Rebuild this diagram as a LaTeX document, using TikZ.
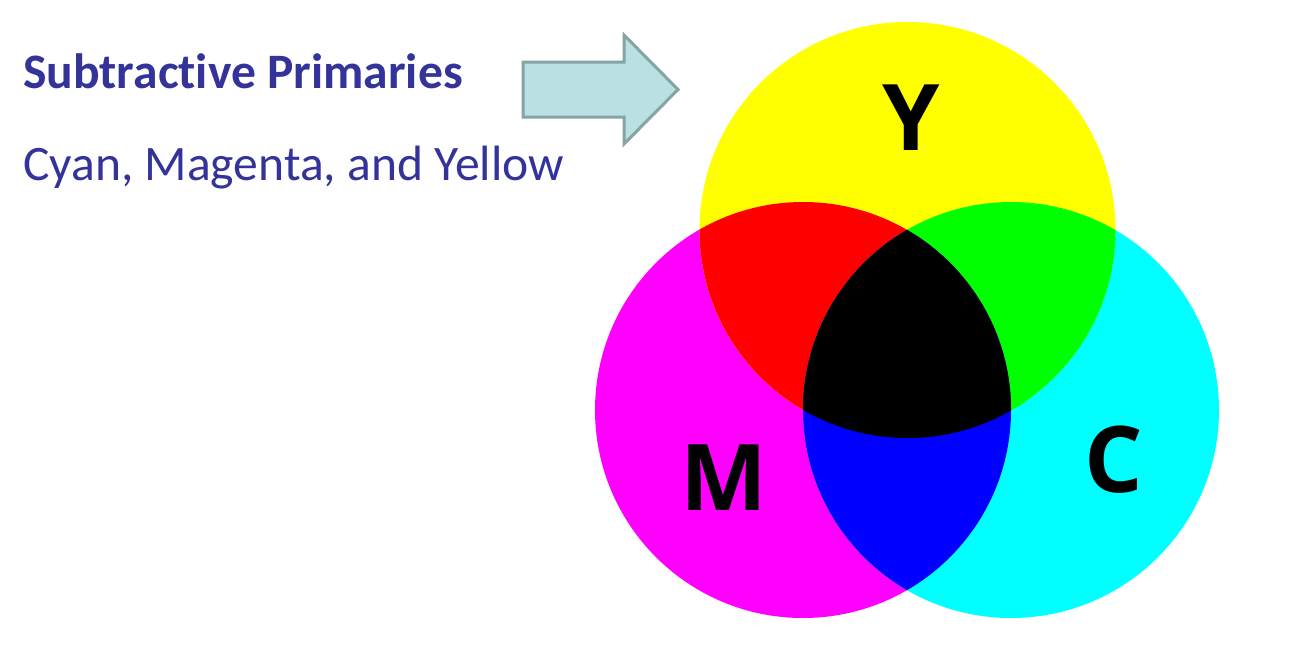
\documentclass[tikz,border=0pt]{standalone}
\usepackage{fontspec}
\setmainfont{Carlito}[Ligatures=NoCommon]
\newfontfamily\letterfont{Open Sans}
\definecolor{cY}{RGB}{255,255,0}
\definecolor{cM}{RGB}{255,0,255}
\definecolor{cC}{RGB}{0,255,255}
\definecolor{cR}{RGB}{255,0,0}
\definecolor{cG}{RGB}{0,255,0}
\definecolor{cB}{RGB}{0,0,255}
\definecolor{titleblue}{RGB}{51,51,153}
\definecolor{arrowfill}{RGB}{185,224,227}
\definecolor{arrowline}{RGB}{134,164,165}
\tikzset{
  titletext/.style={anchor=base west, inner sep=0pt, text=titleblue, font=\fontsize{49.6}{56}\selectfont},
  lettertext/.style={inner sep=0pt, text=black, font=\letterfont\bfseries\fontsize{92}{100}\selectfont},
  blockarrow/.style={fill=arrowfill, draw=arrowline, line width=3pt, line join=miter}
}
\newcommand{\circY}{(907.5,230) circle[radius=208pt]}
\newcommand{\circM}{(803,410) circle[radius=208pt]}
\newcommand{\circC}{(1011,410) circle[radius=208pt]}
\begin{document}
\begin{tikzpicture}[x=1pt,y=-1pt]
\useasboundingbox (0,0) rectangle (1300,670);
% primary circles
\fill[cM] \circM;
\fill[cC] \circC;
\fill[cY] \circY;
% pairwise overlaps
\begin{scope}
  \clip \circY;
  \fill[cR] \circM;
\end{scope}
\begin{scope}
  \clip \circY;
  \fill[cG] \circC;
\end{scope}
\begin{scope}
  \clip \circM;
  \fill[cB] \circC;
\end{scope}
% triple overlap
\begin{scope}
  \clip \circY;
  \clip \circM;
  \fill[black] \circC;
\end{scope}
% letters
\node[lettertext] (Y) at (911,118) {Y};
\node[lettertext] (M) at (724,478) {M};
\node[lettertext] (C) at (1114,460) {C};
% block arrow
\draw[blockarrow] (523,62) -- (624,62) -- (624,35) -- (678,89.5) -- (624,144) -- (624,117) -- (523,117) -- cycle;
% texts
\node[titletext, font=\bfseries\fontsize{49.6}{56}\selectfont] (title) at (23,88) {Subtractive Primaries};
\node[titletext] (sub) at (23,180) {Cyan, Magenta, and Yellow};
\end{tikzpicture}
\end{document}
